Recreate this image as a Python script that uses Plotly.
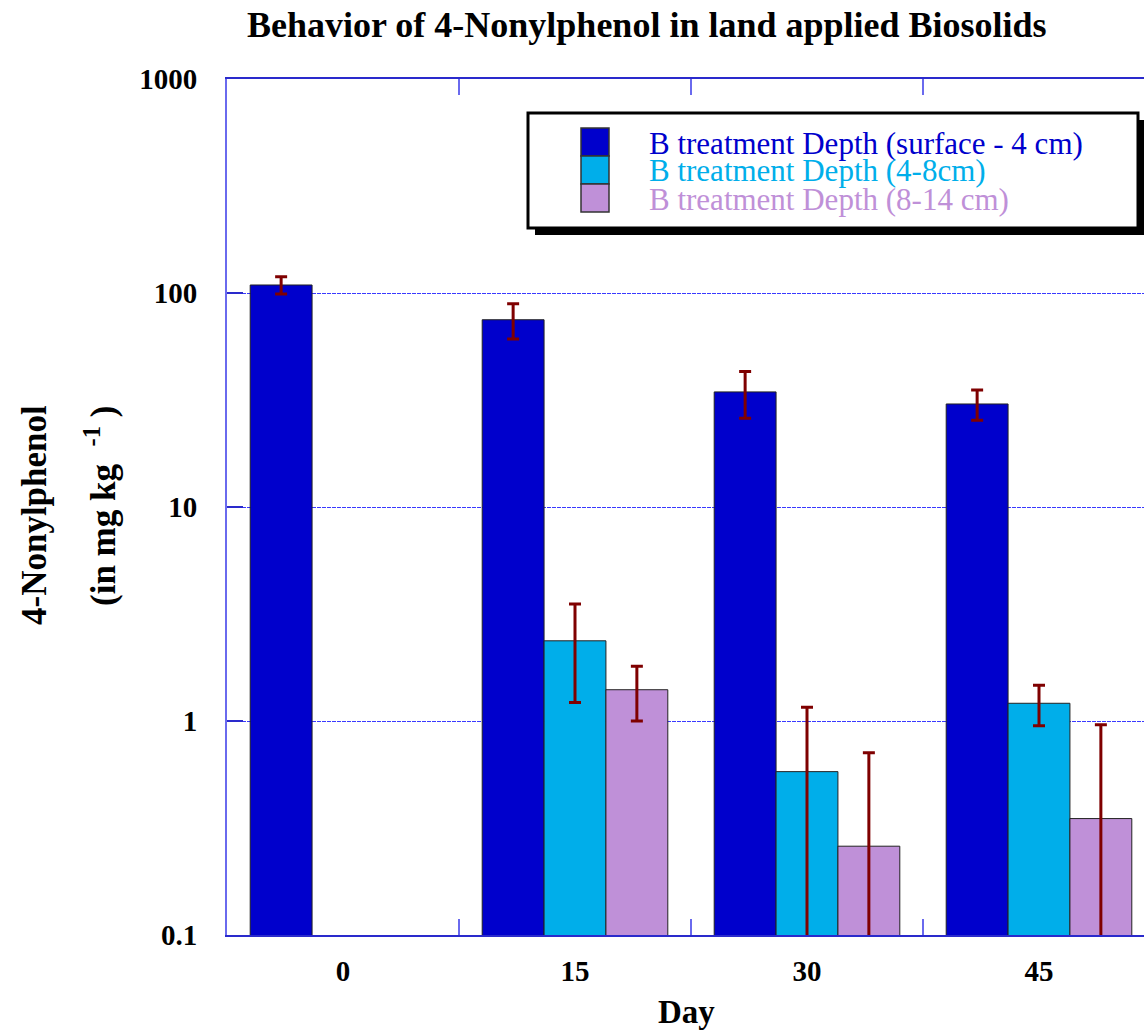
import plotly.graph_objects as go

# Sampling days (categories on the x axis)
days = ["0", "15", "30", "45"]

# Mean 4-Nonylphenol concentration (mg/kg) per depth layer; None = not sampled
surface_mean = [109, 75, 34.5, 30.3]
surface_err = [10, 14, 8.5, 4.9]

mid_mean = [None, 2.37, 0.58, 1.21]
mid_err = [None, 1.15, 0.58, 0.26]

deep_mean = [None, 1.40, 0.26, 0.35]
deep_err = [None, 0.40, 0.45, 0.61]

series_names = [
    "B treatment Depth (surface - 4 cm)",
    "B treatment Depth (4-8cm)",
    "B treatment Depth (8-14 cm)",
]
series_colors = ["#0000CC", "#00AEEA", "#BF90D8"]

y_tickvals = [0.1, 1, 10, 100, 1000]
y_ticktext = ["0.1", "1", "10", "100", "1000"]

W, H = 1144, 1031
L, T, B = 227, 79, 96
plot_w = W - L
plot_h = H - T - B

serif = "Liberation Serif, Times New Roman, serif"
axis_blue = "#2a2acc"
err_red = "#7f0000"

fig = go.Figure()
for name, color, mean, err in zip(
    series_names, series_colors,
    [surface_mean, mid_mean, deep_mean],
    [surface_err, mid_err, deep_err],
):
    fig.add_trace(go.Bar(
        x=days, y=mean, name=name,
        marker=dict(color=color, line=dict(color="#222222", width=1)),
        error_y=dict(type="data", array=err, visible=True,
                     color=err_red, thickness=3, width=6),
        showlegend=False,
    ))

# category step in pixels: four categories across [-0.5, 3.5] ends at 1155 px
step = 232.0
x_end = 3.5 - (L + 4 * step - W) / step

fig.update_layout(
    width=W, height=H,
    margin=dict(l=L, r=0, t=T, b=B, pad=0),
    barmode="group", bargap=0.2, bargroupgap=0,
    plot_bgcolor="white", paper_bgcolor="white",
    font=dict(family=serif, color="black"),
    xaxis=dict(
        type="category", range=[-0.5, x_end],
        showline=True, linecolor=axis_blue, linewidth=2,
        mirror="allticks", ticks="inside", tickson="boundaries",
        ticklen=16, tickcolor="#6a6aee", tickwidth=2,
        showgrid=False, zeroline=False,
        tickfont=dict(family=serif, size=29, color="black", weight="bold"),
        ticklabelstandoff=9,
    ),
    yaxis=dict(
        type="log", range=[-1, 3],
        tickvals=y_tickvals, ticktext=y_ticktext,
        showline=True, linecolor="#6a6aee", linewidth=2, mirror=False,
        ticks="inside", ticklen=16, tickcolor=axis_blue, tickwidth=2,
        showgrid=True, gridcolor="#3a3aff", gridwidth=1, griddash="4px,1px",
        zeroline=False,
        tickfont=dict(family=serif, size=29, color="black", weight="bold"),
        ticklabelstandoff=22,
    ),
)


def px(x):
    return (x - L) / plot_w


def py(y):
    return (T + plot_h - y) / plot_h


# Title
fig.add_annotation(
    text="<b>Behavior of 4-Nonylphenol in land applied Biosolids</b>",
    x=px(647), y=py(25), xref="paper", yref="paper",
    xanchor="center", yanchor="middle", showarrow=False,
    font=dict(family=serif, size=36, color="black"),
)

# Axis titles
fig.add_annotation(
    text="<b>Day</b>", x=px(686), y=py(1012), xref="paper", yref="paper",
    xanchor="center", yanchor="middle", showarrow=False,
    font=dict(family=serif, size=33, color="black"),
)
fig.add_annotation(
    text="<b>4-Nonylphenol</b>", x=px(34), y=py(515), xref="paper", yref="paper",
    xanchor="center", yanchor="middle", showarrow=False, textangle=-90,
    font=dict(family=serif, size=35, color="black"),
)
fig.add_annotation(
    text="<b>(in mg kg  <sup>-1</sup> )</b>", x=px(100), y=py(506),
    xref="paper", yref="paper",
    xanchor="center", yanchor="middle", showarrow=False, textangle=-90,
    font=dict(family=serif, size=35, color="black"),
)

# Legend box with drop shadow
box = dict(x0=528, y0=113, x1=1138, y1=228)
fig.add_shape(type="rect", xref="paper", yref="paper",
              x0=px(box["x0"] + 7), x1=px(box["x1"] + 7),
              y0=py(box["y0"] + 7), y1=py(box["y1"] + 7),
              fillcolor="black", line=dict(width=0), layer="above")
fig.add_shape(type="rect", xref="paper", yref="paper",
              x0=px(box["x0"]), x1=px(box["x1"]),
              y0=py(box["y0"]), y1=py(box["y1"]),
              fillcolor="white", line=dict(color="black", width=3), layer="above")

row_tops = [128, 156, 184]
row_h = 28
for i, (name, color) in enumerate(zip(series_names, series_colors)):
    top = row_tops[i]
    fig.add_shape(type="rect", xref="paper", yref="paper",
                  x0=px(581), x1=px(609), y0=py(top), y1=py(top + row_h),
                  fillcolor=color, line=dict(color="#333333", width=1.5),
                  layer="above")
    fig.add_annotation(
        text=name, x=px(647), y=py(top + row_h / 2 + 1),
        xref="paper", yref="paper", xanchor="left", yanchor="middle",
        showarrow=False, font=dict(family=serif, size=31, color=color),
    )

fig.write_html("out.html")
